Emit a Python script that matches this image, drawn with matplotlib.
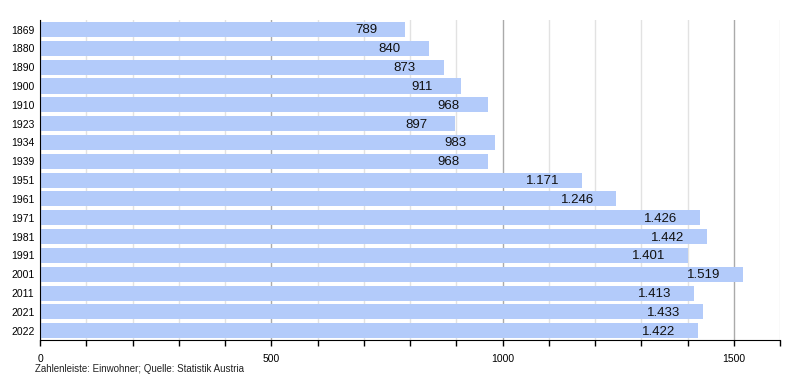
import numpy as np
import matplotlib.pyplot as plt
from matplotlib.ticker import MultipleLocator

# Einwohner je Zählungsjahr
jahre = ["1869", "1880", "1890", "1900", "1910", "1923", "1934", "1939", "1951",
         "1961", "1971", "1981", "1991", "2001", "2011", "2021", "2022"]
einwohner = [789, 840, 873, 911, 968, 897, 983, 968, 1171,
             1246, 1426, 1442, 1401, 1519, 1413, 1433, 1422]

plt.rcParams['font.family'] = ['Liberation Sans', 'DejaVu Sans']

fig = plt.figure(figsize=(8, 3.8), dpi=100)
ax = fig.add_axes([0.05, 0.105, 0.925, 0.842])

y = np.arange(len(jahre))
ax.barh(y, einwohner, height=0.8, color="#b3cbfa", zorder=2)

# Werte etwas links vom Balkenende
for yi, v in zip(y, einwohner):
    txt = f"{v:,}".replace(",", ".")
    ax.text(v - 84, yi + 0.05, txt, ha="center", va="center", fontsize=9.5, color="#111111", zorder=3)

ax.set_yticks(y)
ax.set_yticklabels(jahre, fontsize=7.5)
ax.set_ylim(len(jahre) - 0.5, -0.5)
ax.set_xlim(0, 1600)
ax.xaxis.set_major_locator(MultipleLocator(500))
ax.xaxis.set_minor_locator(MultipleLocator(100))
ax.tick_params(axis="x", which="both", length=4, width=1, labelsize=7.5, color="black", pad=6)
ax.tick_params(axis="y", length=0, pad=4)

ax.grid(axis="x", which="minor", color="#e2e2e2", linewidth=1, zorder=0)
ax.grid(axis="x", which="major", color="#aaaaaa", linewidth=1, zorder=0)

for s in ["top", "right"]:
    ax.spines[s].set_visible(False)
ax.spines["left"].set_color("black")
ax.spines["bottom"].set_color("black")

fig.text(0.044, 0.022, "Zahlenleiste: Einwohner; Quelle: Statistik Austria", fontsize=7, color="#222222")

fig.savefig("out.png", dpi=100)
